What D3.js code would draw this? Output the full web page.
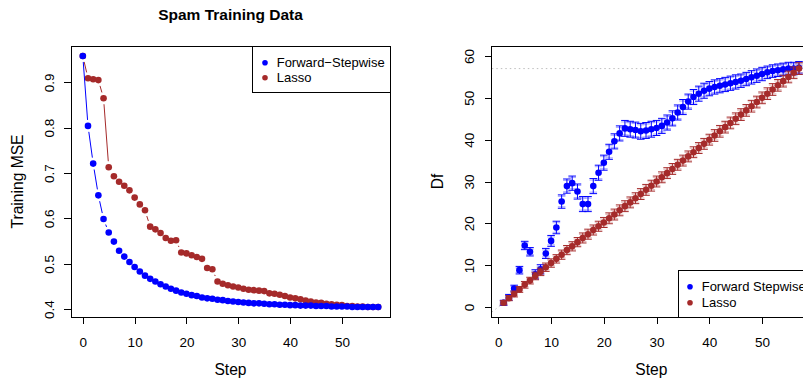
<!DOCTYPE html>
<html>
<head>
<meta charset="utf-8">
<script src="https://cdn.jsdelivr.net/npm/d3@7/dist/d3.min.js"></script>
<style>
  body { margin: 0; background: #fff; }
  svg { display: block; font-family: "Liberation Sans", Arial, sans-serif; }
</style>
</head>
<body>
<svg id="chart" width="803" height="383"></svg>
<script>
// ---- data ----
const seriesNames = ['Forward\u2212Stepwise', 'Lasso'];
const seriesNamesDf = ['Forward Stepwise', 'Lasso'];

// training MSE, steps 0..57
const fsMse = [0.958, 0.804, 0.721, 0.651, 0.599, 0.569, 0.549, 0.529, 0.516, 0.504,
  0.493, 0.483, 0.474, 0.467, 0.461, 0.455, 0.450, 0.445, 0.441, 0.437,
  0.434, 0.431, 0.429, 0.426, 0.424, 0.423, 0.421, 0.420, 0.418, 0.417,
  0.416, 0.415, 0.414, 0.413, 0.413, 0.412, 0.411, 0.411, 0.410, 0.410,
  0.409, 0.409, 0.408, 0.408, 0.408, 0.407, 0.407, 0.407, 0.406, 0.406,
  0.406, 0.406, 0.405, 0.405, 0.405, 0.405, 0.405, 0.405];
const lassoMse = [0.958, 0.909, 0.907, 0.905, 0.865, 0.713, 0.693, 0.681, 0.672, 0.662,
  0.646, 0.631, 0.618, 0.582, 0.576, 0.568, 0.557, 0.551, 0.552, 0.525,
  0.523, 0.519, 0.515, 0.511, 0.491, 0.488, 0.461, 0.456, 0.453, 0.450,
  0.448, 0.445, 0.443, 0.442, 0.441, 0.440, 0.435, 0.434, 0.432, 0.429,
  0.426, 0.424, 0.422, 0.419, 0.417, 0.415, 0.414, 0.412, 0.411, 0.410,
  0.409, 0.407, 0.407, 0.406, 0.406, 0.405, 0.405, 0.405];

// degrees of freedom, steps 1..57, with standard errors
const fsDf = [1.0, 2.3, 4.4, 8.8, 14.7, 13.2, 7.8, 9.0, 12.8, 15.8,
  19.0, 25.2, 28.9, 29.6, 27.6, 24.6, 24.6, 28.9, 32.1, 34.5,
  37.1, 39.6, 41.5, 42.7, 42.5, 42.3, 42.0, 42.2, 42.5, 42.8,
  43.3, 44.1, 45.1, 46.5, 47.8, 49.1, 50.2, 51.0, 51.7, 52.2,
  52.6, 52.9, 53.2, 53.5, 53.8, 54.1, 54.5, 54.9, 55.3, 55.7,
  56.1, 56.4, 56.6, 56.8, 57.0, 57.0, 57.2];
const fsSe = [0.6, 0.7, 0.8, 0.9, 1.0, 1.0, 1.1, 1.1, 1.2, 1.3,
  1.5, 1.6, 1.7, 1.7, 1.8, 1.8, 1.8, 1.8, 1.8, 1.8,
  1.8, 1.8, 1.8, 1.9, 1.9, 1.9, 1.9, 1.9, 1.9, 1.8,
  1.8, 1.8, 1.8, 1.8, 1.8, 1.8, 1.8, 1.8, 1.8, 1.7,
  1.7, 1.7, 1.7, 1.7, 1.7, 1.6, 1.6, 1.6, 1.6, 1.6,
  1.5, 1.5, 1.5, 1.5, 1.5, 1.5, 1.5];
const lassoDf = [1.0, 2.1, 3.1, 4.2, 5.3, 6.3, 7.4, 8.4, 9.5, 10.5,
  11.5, 12.5, 13.6, 14.5, 15.5, 16.5, 17.4, 18.4, 19.3, 20.2,
  21.2, 22.1, 23.1, 24.1, 25.0, 26.0, 27.0, 28.0, 29.0, 30.0,
  31.0, 32.0, 33.0, 34.0, 35.0, 36.0, 37.0, 38.0, 39.0, 40.0,
  41.0, 42.0, 43.0, 44.0, 45.0, 46.0, 47.0, 48.0, 49.0, 50.0,
  51.0, 52.0, 53.0, 54.0, 55.0, 56.0, 57.0];
const lassoSe = [0.5, 0.6, 0.7, 0.7, 0.8, 0.8, 0.9, 0.9, 1.0, 1.0,
  1.0, 1.1, 1.1, 1.1, 1.1, 1.2, 1.2, 1.2, 1.2, 1.2,
  1.3, 1.3, 1.3, 1.3, 1.3, 1.3, 1.3, 1.3, 1.3, 1.3,
  1.3, 1.3, 1.3, 1.3, 1.3, 1.3, 1.3, 1.3, 1.3, 1.3,
  1.4, 1.4, 1.4, 1.4, 1.4, 1.4, 1.4, 1.4, 1.4, 1.4,
  1.4, 1.4, 1.4, 1.4, 1.4, 1.4, 1.4];

const mseTicks = [0.4, 0.5, 0.6, 0.7, 0.8, 0.9];
const dfTicks = [0, 10, 20, 30, 40, 50, 60];
const stepTicks = [0, 10, 20, 30, 40, 50];
const dfLimits = [0, 60];
const nFeatures = 57;

const BLUE = '#0000ff';
const BROWN = '#a52a2a';

// ---- helpers ----
const svg = d3.select('#chart');
const pad = ext => { const d = (ext[1] - ext[0]) * 0.04; return [ext[0] - d, ext[1] + d]; };

function box(g, x0, x1, y0, y1) {
  g.append('rect')
    .attr('x', x0).attr('y', y0).attr('width', x1 - x0).attr('height', y1 - y0)
    .attr('fill', 'none').attr('stroke', '#000').attr('shape-rendering', 'crispEdges');
}

function axes(g, x, y, yTicks, yFmt, yBottom, xLeft) {
  const ax = g.append('g').attr('transform', `translate(0,${yBottom})`)
    .call(d3.axisBottom(x).tickValues(stepTicks).tickSize(7).tickPadding(13).tickFormat(d3.format('d')));
  ax.select('.domain').remove();
  const ay = g.append('g').attr('transform', `translate(${xLeft},0)`)
    .call(d3.axisLeft(y).tickValues(yTicks).tickSize(7).tickFormat(yFmt));
  ay.select('.domain').remove();
  ay.selectAll('text')
    .attr('x', null).attr('dy', null)
    .attr('text-anchor', 'middle')
    .attr('transform', 'translate(-17.5,0) rotate(-90)');
  g.selectAll('.tick text').attr('font-size', 13.5).attr('font-family', '"Liberation Sans", Arial, sans-serif').attr('fill', '#000');
  g.selectAll('.tick line').attr('stroke', '#000').attr('shape-rendering', 'crispEdges');
}

function legend(g, x, y, w, h, names, rowY, textX, dotX) {
  g.append('rect').attr('x', x).attr('y', y).attr('width', w).attr('height', h)
    .attr('fill', '#fff').attr('stroke', '#000').attr('shape-rendering', 'crispEdges');
  names.forEach((n, i) => {
    g.append('circle').attr('cx', dotX).attr('cy', rowY[i]).attr('r', 2.8).attr('fill', [BLUE, BROWN][i]);
    g.append('text').attr('x', textX).attr('y', rowY[i] + 4.6).attr('font-size', 13).text(n);
  });
}

// ---- left panel: training MSE ----
const L = { x0: 71, x1: 390, y0: 46, y1: 317 };
const xL = d3.scaleLinear().domain(pad([0, fsMse.length - 1])).range([L.x0, L.x1]);
const yL = d3.scaleLinear().domain(pad(d3.extent(fsMse.concat(lassoMse)))).range([L.y1, L.y0]);
const gL = svg.append('g');

gL.append('text').attr('x', (L.x0 + L.x1) / 2).attr('y', 20).attr('text-anchor', 'middle')
  .attr('font-size', 15.5).attr('font-weight', 'bold').text('Spam Training Data');

// R type="b": line segments with a gap round each point
function gappedLine(g, vals, color) {
  const pts = vals.map((v, i) => [xL(i), yL(v)]);
  const gap = 6;
  for (let i = 0; i < pts.length - 1; i++) {
    const [ax, ay] = pts[i], [bx, by] = pts[i + 1];
    const d = Math.hypot(bx - ax, by - ay);
    if (d <= 2 * gap) continue;
    const ux = (bx - ax) / d, uy = (by - ay) / d;
    g.append('line')
      .attr('x1', ax + ux * gap).attr('y1', ay + uy * gap)
      .attr('x2', bx - ux * gap).attr('y2', by - uy * gap)
      .attr('stroke', color).attr('stroke-width', 1);
  }
  g.selectAll(null).data(vals).enter().append('circle')
    .attr('cx', (d, i) => xL(i)).attr('cy', d => yL(d)).attr('r', 3.3).attr('fill', color);
}
gappedLine(gL, lassoMse, BROWN);
gappedLine(gL, fsMse, BLUE);

box(gL, L.x0, L.x1, L.y0, L.y1);
axes(gL, xL, yL, mseTicks, d3.format('.1f'), L.y1, L.x0);

gL.append('text').attr('x', (L.x0 + L.x1) / 2).attr('y', 375).attr('text-anchor', 'middle')
  .attr('font-size', 15.6).text('Step');
gL.append('text').attr('transform', `translate(23,${(L.y0 + L.y1) / 2}) rotate(-90)`)
  .attr('text-anchor', 'middle').attr('font-size', 15.6).text('Training MSE');

legend(gL, 252.7, L.y0, L.x1 - 252.7, 46.3, seriesNames, [62.7, 77.7], 276.7, 265);

// ---- right panel: degrees of freedom ----
const R = { x0: 491.8, x1: 810.8, y0: 46, y1: 317 };
const xR = d3.scaleLinear().domain(pad([1, fsDf.length])).range([R.x0, R.x1]);
const yR = d3.scaleLinear().domain(pad(dfLimits)).range([R.y1, R.y0]);
const gR = svg.append('g');

svg.append('clipPath').attr('id', 'clipR').append('rect')
  .attr('x', R.x0).attr('y', R.y0).attr('width', R.x1 - R.x0).attr('height', R.y1 - R.y0);
const plotR = gR.append('g').attr('clip-path', 'url(#clipR)');

// reference lines: df = step, and df = number of features
plotR.append('line')
  .attr('x1', xR(xR.domain()[0])).attr('y1', yR(xR.domain()[0]))
  .attr('x2', xR(xR.domain()[1])).attr('y2', yR(xR.domain()[1]))
  .attr('stroke', '#bebebe').attr('stroke-dasharray', '1.5,3');
plotR.append('line')
  .attr('x1', R.x0).attr('x2', R.x1).attr('y1', yR(nFeatures)).attr('y2', yR(nFeatures))
  .attr('stroke', '#bebebe').attr('stroke-dasharray', '1.5,3');

function errorSeries(g, vals, se, color) {
  const cap = 3.8;
  const rows = vals.map((v, i) => ({ step: i + 1, v, se: se[i] }));
  const bars = g.append('g').attr('stroke', color).attr('stroke-width', 1).attr('fill', 'none');
  rows.forEach(r => {
    const x = xR(r.step), lo = yR(r.v - r.se), hi = yR(r.v + r.se);
    bars.append('line').attr('x1', x).attr('x2', x).attr('y1', lo).attr('y2', hi);
    [lo, hi].forEach((yy, k) => {
      bars.append('line').attr('x1', x - cap).attr('x2', x + cap).attr('y1', yy).attr('y2', yy);
      const inward = k === 0 ? -1.5 : 1.5;
      bars.append('line').attr('x1', x - cap).attr('x2', x + cap)
        .attr('y1', yy + inward).attr('y2', yy + inward).attr('stroke-opacity', 0.35);
    });
  });
  g.selectAll(null).data(rows).enter().append('circle')
    .attr('cx', d => xR(d.step)).attr('cy', d => yR(d.v)).attr('r', 3.3).attr('fill', color);
}
errorSeries(plotR, fsDf, fsSe, BLUE);
errorSeries(plotR, lassoDf, lassoSe, BROWN);

box(gR, R.x0, R.x1, R.y0, R.y1);
axes(gR, xR, yR, dfTicks, d3.format('d'), R.y1, R.x0);

gR.append('text').attr('x', (R.x0 + R.x1) / 2).attr('y', 375).attr('text-anchor', 'middle')
  .attr('font-size', 15.6).text('Step');
gR.append('text').attr('transform', `translate(443,${(R.y0 + R.y1) / 2}) rotate(-90)`)
  .attr('text-anchor', 'middle').attr('font-size', 15.6).text('Df');

legend(gR, 678.3, 270.7, R.x1 - 678.3, R.y1 - 270.7, seriesNamesDf, [286.7, 302.7], 701.7, 690);
</script>
</body>
</html>
